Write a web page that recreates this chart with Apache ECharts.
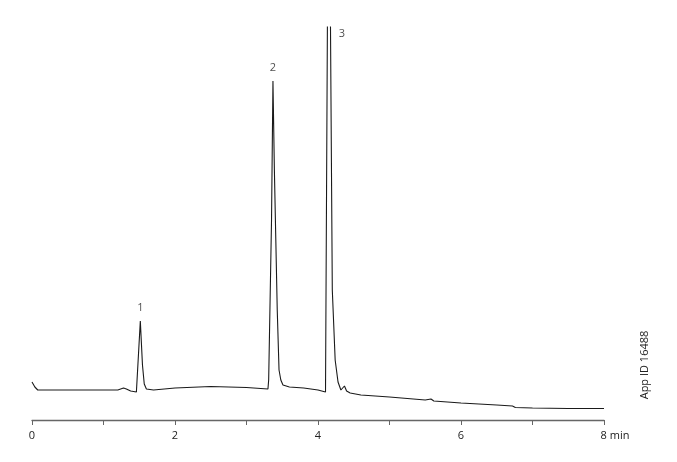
<!DOCTYPE html>
<html>
<head>
<meta charset="utf-8">
<title>Chromatogram</title>
<script src="https://cdn.jsdelivr.net/npm/echarts@6/dist/echarts.min.js"></script>
<style>
  html, body { margin: 0; padding: 0; background: #fff; }
  #chart { width: 677px; height: 462px; }
</style>
</head>
<body>
<div id="chart"></div>
<script>
// retention time (min) and detector signal (arbitrary units)
const times = [
  0.00, 0.04, 0.08, 0.50, 1.00, 1.20, 1.28, 1.32, 1.38, 1.46,
  1.48, 1.515, 1.545, 1.57, 1.60, 1.70, 2.00, 2.50, 3.00, 3.30,
  3.31, 3.35, 3.37, 3.39, 3.41, 3.43, 3.455, 3.48, 3.51, 3.60,
  3.80, 4.00, 4.105, 4.15, 4.20, 4.24, 4.28, 4.32, 4.37, 4.40,
  4.45, 4.60, 5.00, 5.50, 5.58, 5.62, 6.00, 6.50, 6.72, 6.76,
  7.00, 7.50, 8.00
];
const signal = [
  38, 33, 30, 30, 30, 30, 32, 31, 29, 28,
  30, 99, 55, 36, 31, 30, 32, 33.5, 32.5, 31,
  40, 200, 339, 250, 180, 110, 50, 40, 35, 33,
  32, 30, 28, 650, 130, 60, 38, 30, 34, 29,
  27, 25, 23, 20, 21, 19, 17, 15, 14, 12.5,
  12, 11.5, 11.5
];
// peak annotations
const peakNames = ['1', '2', '3'];
const peakTimes = [1.515, 3.37, 4.15];
const peakLabelLevels = [99, 339, 386];
// x-axis ticks
const tickValues = [0, 1, 2, 3, 4, 5, 6, 7, 8];
const tickLabels = ['0', '', '2', '', '4', '', '6', '', '8 min'];

const chart = echarts.init(document.getElementById('chart'));

const font = 'Open Sans, Lato, sans-serif';

chart.setOption({
  animation: false,
  grid: { left: 32, right: 73, top: 27, bottom: 42 },
  xAxis: {
    type: 'value',
    min: tickValues[0],
    max: tickValues[tickValues.length - 1],
    interval: 1,
    splitLine: { show: false },
    axisLine: { show: true, lineStyle: { color: '#666', width: 1.3 } },
    axisTick: { show: true, length: 5, lineStyle: { color: '#666', width: 1 } },
    axisLabel: {
      margin: 10,
      color: '#222',
      fontFamily: font,
      fontSize: 11,
      showMinLabel: true,
      showMaxLabel: true,
      formatter: function (v) {
        const i = tickValues.indexOf(v);
        const t = i >= 0 ? tickLabels[i] : '';
        return t.indexOf(' ') > 0 ? '{pad|}' + t : t;
      },
      rich: { pad: { width: 22 } }
    }
  },
  yAxis: {
    type: 'value',
    min: 0,
    max: 393,
    show: false
  },
  series: [
    {
      type: 'line',
      data: times.map((t, i) => [t, signal[i]]),
      showSymbol: false,
      symbol: 'none',
      clip: true,
      lineStyle: { color: '#1a1a1a', width: 1.1 }
    },
    {
      type: 'scatter',
      symbolSize: 0,
      clip: false,
      data: peakNames.map((n, i) => ({
        value: [peakTimes[i], peakLabelLevels[i]],
        name: n,
        label: i === 2
          ? { position: 'right', distance: 10 }
          : { position: 'top', distance: 8 }
      })),
      label: {
        show: true,
        formatter: p => p.name,
        color: '#222',
        fontFamily: font,
        fontSize: 11
      }
    }
  ],
  graphic: [
    {
      type: 'text',
      x: 645,
      y: 365,
      rotation: Math.PI / 2,
      style: {
        text: 'App ID 16488',
        fill: '#222',
        font: '11px ' + font,
        align: 'center',
        verticalAlign: 'middle'
      }
    }
  ]
});
</script>
</body>
</html>
